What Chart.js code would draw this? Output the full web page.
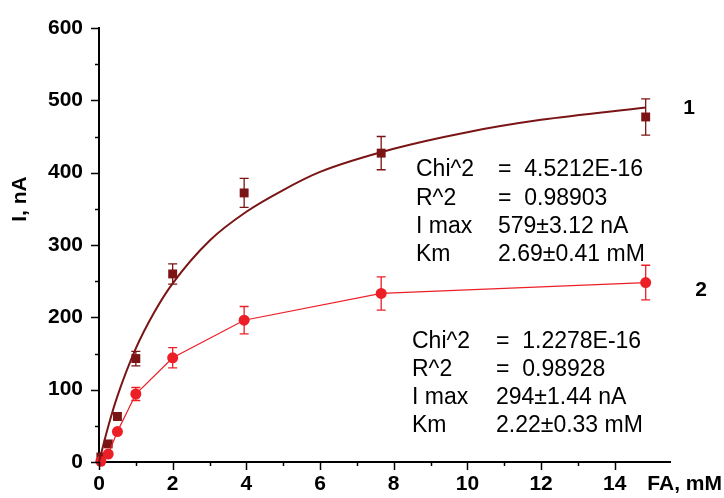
<!DOCTYPE html>
<html>
<head>
<meta charset="utf-8">
<script src="https://cdn.jsdelivr.net/npm/chart.js@4.4.1/dist/chart.umd.min.js"></script>
<style>
    html, body { margin: 0; padding: 0; background: #fff; }
    canvas { display: block; }
</style>
</head>
<body>
<canvas id="mmChart" width="724" height="498"></canvas>
<script>
// FA concentration, mM
const conc = [0.05, 0.25, 0.5, 1, 2, 3.94, 7.66, 14.84];

// curve 1 (squares)
const current1 = [7, 25, 63, 143, 260, 372, 427, 477];
const error1 = [2, 3, 5, 10, 14, 20, 23, 25];

// curve 2 (circles)
const current2 = [1, 11, 42, 94, 144, 196, 233, 248];
const error2 = [1, 2, 4, 9, 14, 19, 23, 24];

// fitted line for curve 1
const fitConc = [0, 0.25, 0.5, 1, 1.5, 2, 3, 4, 5, 6, 8, 10, 12, 14.84];
const fitCurrent = [0, 49, 91, 157, 207, 247, 306, 346, 376, 401, 433, 456, 473, 490];

const fitText1 = [['Chi^2', '=  4.5212E-16'], ['R^2', '=  0.98903'], ['I max', '579±3.12 nA'], ['Km', '2.69±0.41 mM']];
const fitText2 = [['Chi^2', '=  1.2278E-16'], ['R^2', '=  0.98928'], ['I max', '294±1.44 nA'], ['Km', '2.22±0.33 mM']];

const DARK = '#7a1415';
const RED = '#ec1f27';
const FONT = '"Liberation Sans", Arial, sans-serif';

const toPoints = (xs, ys) => xs.map((x, i) => ({ x: x, y: ys[i] }));

// error bars, minor ticks and free text
const extras = {
    id: 'extras',
    beforeDatasetsDraw(chart) {
        const { ctx, scales: { x, y } } = chart;
        const bars = [[current1, error1, DARK], [current2, error2, RED]];
        ctx.save();
        bars.forEach(([vals, errs, color]) => {
            ctx.strokeStyle = color;
            ctx.lineWidth = 1.3;
            vals.forEach((v, i) => {
                if (errs[i] < 5) return;
                const px = x.getPixelForValue(conc[i]);
                const top = y.getPixelForValue(v + errs[i]);
                const bot = y.getPixelForValue(v - errs[i]);
                ctx.beginPath();
                ctx.moveTo(px, top); ctx.lineTo(px, bot);
                ctx.moveTo(px - 4.5, top); ctx.lineTo(px + 4.5, top);
                ctx.moveTo(px - 4.5, bot); ctx.lineTo(px + 4.5, bot);
                ctx.stroke();
            });
        });
        ctx.restore();
    },
    afterDraw(chart) {
        const { ctx, chartArea: area, scales: { x, y } } = chart;
        ctx.save();
        ctx.strokeStyle = '#000';
        ctx.lineWidth = 1.5;
        // axis ticks
        x.ticks.forEach(t => {
            const px = Math.round(x.getPixelForValue(t.value)) + 0.5;
            const len = t.value % 2 === 0 ? 8 : 4;
            ctx.beginPath();
            ctx.moveTo(px, area.bottom);
            ctx.lineTo(px, area.bottom + len);
            ctx.stroke();
        });
        y.ticks.forEach(t => {
            const py = Math.round(y.getPixelForValue(t.value)) + 0.5;
            const len = t.value % 100 === 0 ? 8 : 4;
            ctx.beginPath();
            ctx.moveTo(area.left, py);
            ctx.lineTo(area.left - len, py);
            ctx.stroke();
        });

        ctx.fillStyle = '#000';
        ctx.textBaseline = 'middle';
        // axis titles
        ctx.font = 'bold 21px ' + FONT;
        ctx.textAlign = 'right';
        ctx.fillText('FA, mM', 722, 484);
        ctx.save();
        ctx.translate(20, 199);
        ctx.rotate(-Math.PI / 2);
        ctx.textAlign = 'center';
        ctx.fillText('I, nA', 0, 0);
        ctx.restore();

        // curve numbers
        ctx.textAlign = 'center';
        ctx.fillText('1', 689, 108);
        ctx.fillText('2', 701, 290);

        // fit results
        ctx.font = '23px ' + FONT;
        ctx.textAlign = 'left';
        fitText1.forEach((row, i) => {
            ctx.fillText(row[0], 416, 170 + i * 28.3);
            ctx.fillText(row[1], 498, 170 + i * 28.3);
        });
        fitText2.forEach((row, i) => {
            ctx.fillText(row[0], 412, 342 + i * 28);
            ctx.fillText(row[1], 496, 342 + i * 28);
        });
        ctx.restore();
    }
};

document.addEventListener('DOMContentLoaded', () => {
    const ctx = document.getElementById('mmChart').getContext('2d');

    new Chart(ctx, {
        type: 'scatter',
        data: {
            datasets: [
                {
                    label: 'fit 1',
                    data: toPoints(fitConc, fitCurrent),
                    showLine: true,
                    borderColor: DARK,
                    borderWidth: 2,
                    pointRadius: 0,
                    cubicInterpolationMode: 'monotone'
                },
                {
                    label: '2',
                    data: toPoints(conc, current2),
                    showLine: true,
                    borderColor: RED,
                    borderWidth: 1.2,
                    backgroundColor: RED,
                    pointStyle: 'circle',
                    pointRadius: 5.5,
                    pointBorderWidth: 0,
                    tension: 0
                },
                {
                    label: '1',
                    data: toPoints(conc, current1),
                    showLine: false,
                    backgroundColor: DARK,
                    borderColor: DARK,
                    pointStyle: 'rect',
                    pointRadius: 6.3,
                    pointBorderWidth: 0
                }
            ]
        },
        options: {
            responsive: false,
            animation: false,
            clip: false,
            layout: { padding: { top: 28, right: 54, left: 0, bottom: 0 } },
            plugins: {
                legend: { display: false },
                tooltip: { enabled: false }
            },
            scales: {
                x: {
                    type: 'linear',
                    min: 0,
                    max: 15.5,
                    afterFit: s => { s.height = 36; },
                    afterBuildTicks: s => { s.ticks = s.ticks.filter(t => Number.isInteger(t.value)); },
                    grid: { display: true, drawOnChartArea: false, drawTicks: true, tickLength: 8, color: 'rgba(0,0,0,0)' },
                    border: { display: true, color: '#000', width: 2 },
                    ticks: {
                        stepSize: 1,
                        autoSkip: false,
                        maxRotation: 0,
                        padding: 2,
                        color: '#000',
                        font: { family: FONT, size: 21, weight: 'bold' },
                        callback: v => (v % 2 === 0 && v <= 14 ? v : '')
                    }
                },
                y: {
                    min: 0,
                    max: 600,
                    afterFit: s => { s.width = 99; },
                    grid: { display: true, drawOnChartArea: false, drawTicks: true, tickLength: 8, color: 'rgba(0,0,0,0)' },
                    border: { display: true, color: '#000', width: 2 },
                    ticks: {
                        stepSize: 50,
                        autoSkip: false,
                        padding: 8,
                        color: '#000',
                        font: { family: FONT, size: 21, weight: 'bold' },
                        callback: v => (v % 100 === 0 ? v : '')
                    }
                }
            }
        },
        plugins: [extras]
    });
});
</script>
</body>
</html>
